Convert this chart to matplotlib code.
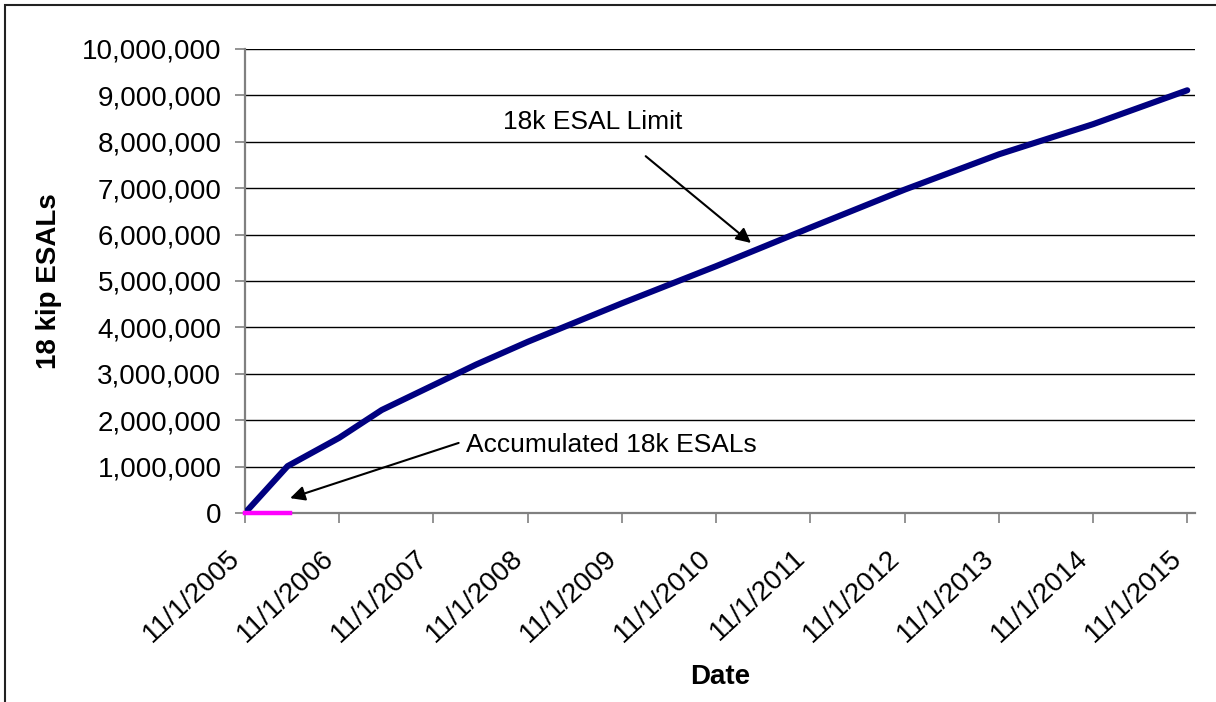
"""
18 kip ESALs vs date: design limit against accumulated traffic.
"""

import matplotlib
matplotlib.use('Agg')
import matplotlib.pyplot as plt
import matplotlib.dates as mdates
import numpy as np
from matplotlib.patches import Rectangle
from matplotlib.ticker import FuncFormatter

# ─────────────────────────────────────────────────────────────────────
# Data
# ─────────────────────────────────────────────────────────────────────

LIMIT_DATES = ['2005-11-01', '2006-04-15', '2006-11-01', '2007-04-15',
               '2008-04-15', '2008-11-01', '2009-11-01', '2010-11-01',
               '2011-11-01', '2012-11-01', '2013-11-01', '2014-11-01',
               '2015-11-01']
LIMIT_ESALS = [0, 1010000, 1620000, 2220000,
               3200000, 3690000, 4520000, 5320000,
               6150000, 6970000, 7730000, 8380000,
               9110000]

ACCUM_DATES = ['2005-11-01', '2006-04-26']
ACCUM_ESALS = [0, 0]

TICK_DATES = ['2005-11-01', '2006-11-01', '2007-11-01', '2008-11-01',
              '2009-11-01', '2010-11-01', '2011-11-01', '2012-11-01',
              '2013-11-01', '2014-11-01', '2015-11-01']
TICK_LABELS = ['11/1/2005', '11/1/2006', '11/1/2007', '11/1/2008',
               '11/1/2009', '11/1/2010', '11/1/2011', '11/1/2012',
               '11/1/2013', '11/1/2014', '11/1/2015']

Y_TICKS = list(range(0, 10000001, 1000000))


def d(s):
    return mdates.date2num(np.datetime64(s))


# ─────────────────────────────────────────────────────────────────────
# Plot
# ─────────────────────────────────────────────────────────────────────

plt.rcParams['font.family'] = ['Liberation Sans', 'DejaVu Sans']

fig = plt.figure(figsize=(12.16, 7.02), dpi=100)
ax = fig.add_axes([245 / 1216, 1 - 513 / 702,
                   (1195 - 245) / 1216, (513 - 49) / 702])

ax.plot([d(s) for s in LIMIT_DATES], LIMIT_ESALS,
        color='#000080', linewidth=4.4, solid_capstyle='round',
        solid_joinstyle='round', zorder=3)
ax.plot([d(s) for s in ACCUM_DATES], ACCUM_ESALS,
        color='#FF00FF', linewidth=3.2, clip_on=False, zorder=4)

ax.set_xlim(d('2005-11-01'), d('2015-12-01'))
ax.set_ylim(0, 10000000)

ax.set_xticks([d(s) for s in TICK_DATES])
ax.set_xticklabels(TICK_LABELS, rotation=43, ha='right', fontsize=20)
ax.set_yticks(Y_TICKS)
ax.yaxis.set_major_formatter(FuncFormatter(lambda v, p: f'{int(v):,}'))
ax.tick_params(axis='y', labelsize=20, length=7, width=1.2,
               color='#808080', pad=10)
ax.tick_params(axis='x', length=7, width=1.2, color='#808080', pad=16)

ax.grid(True, axis='y', color='black', linewidth=1.0)
ax.set_axisbelow(True)
for side in ['top', 'right']:
    ax.spines[side].set_visible(False)
for side in ['left', 'bottom']:
    ax.spines[side].set_color('#808080')
    ax.spines[side].set_linewidth(1.6)

ax.set_ylabel('18 kip ESALs', fontsize=20, fontweight='bold', labelpad=14)
ax.set_xlabel('Date', fontsize=20, fontweight='bold', labelpad=12)

# annotations
ax.text(d('2009-07-10'), 8430000, '18k ESAL Limit', fontsize=19,
        ha='center', va='center')
ax.annotate('', xy=(d('2011-03-16'), 5820000),
            xytext=(d('2010-02-01'), 7690000),
            arrowprops=dict(arrowstyle='-|>', color='black', lw=1.5,
                            mutation_scale=22, shrinkA=0, shrinkB=0))

ax.text(d('2008-03-08'), 1470000, 'Accumulated 18k ESALs', fontsize=19,
        ha='left', va='center')
ax.annotate('', xy=(d('2006-04-25'), 320000),
            xytext=(d('2008-02-07'), 1510000),
            arrowprops=dict(arrowstyle='-|>', color='black', lw=1.5,
                            mutation_scale=22, shrinkA=0, shrinkB=0))

# chart frame (only left and top edges visible in the reference)
fig.add_artist(Rectangle((5 / 1216, -0.1), 1.2, 1.1 - 5 / 702,
                         transform=fig.transFigure, fill=False,
                         edgecolor='#222222', linewidth=1.5))

fig.savefig('out.png', dpi=100)
